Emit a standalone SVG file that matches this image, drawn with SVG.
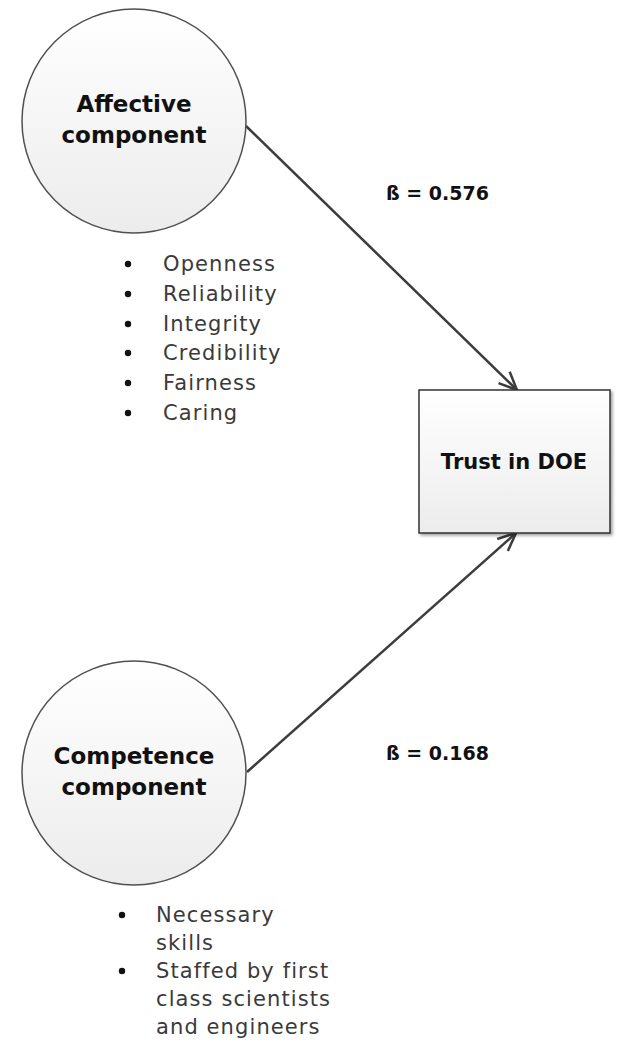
<svg xmlns="http://www.w3.org/2000/svg" width="617" height="1051" viewBox="0 0 617 1051">
<style>
.node{stroke:#505050;stroke-width:1.5}
.title{font-family:"DejaVu Sans",sans-serif;font-weight:bold;fill:#111;text-anchor:middle}
.item{font-family:"DejaVu Sans",sans-serif;font-size:21px;fill:#3a3a3a;letter-spacing:1.1px}
.beta{font-family:"DejaVu Sans",sans-serif;font-weight:bold;font-size:19px;fill:#111}
.conn{stroke:#3c3c3c;stroke-width:2.5;fill:none}
</style>
<defs>
<linearGradient id="g" x1="0" y1="0" x2="0" y2="1">
<stop offset="0" stop-color="#ffffff"/>
<stop offset="1" stop-color="#ececec"/>
</linearGradient>
<filter id="sh" x="-10%" y="-10%" width="130%" height="130%">
<feGaussianBlur in="SourceAlpha" stdDeviation="1.5"/>
<feOffset dx="2" dy="2" result="b"/>
<feComponentTransfer><feFuncA type="linear" slope="0.35"/></feComponentTransfer>
<feMerge><feMergeNode/><feMergeNode in="SourceGraphic"/></feMerge>
</filter>
<marker id="arr" markerWidth="12" markerHeight="12" refX="10" refY="6" orient="auto" markerUnits="userSpaceOnUse" viewBox="0 0 12 12" overflow="visible">
<path d="M-8,-2 L10,6 L-8,14" fill="none" stroke="#3c3c3c" stroke-width="2.5"/>
</marker>
</defs>
<g id="connectors">
<line class="conn" x1="246" y1="126" x2="517" y2="390" marker-end="url(#arr)"/>
<line class="conn" x1="247" y1="772" x2="516" y2="533" marker-end="url(#arr)"/>
</g>
<g id="affective">
<circle class="node" cx="134" cy="121" r="112" fill="url(#g)"/>
<text class="title" x="134" y="112" font-size="23">Affective</text>
<text class="title" x="134" y="143" font-size="23">component</text>
</g>
<g id="affective-list">
<circle cx="128" cy="264" r="3.2" fill="#111"/>
<circle cx="128" cy="294" r="3.2" fill="#111"/>
<circle cx="128" cy="324" r="3.2" fill="#111"/>
<circle cx="128" cy="353" r="3.2" fill="#111"/>
<circle cx="128" cy="383" r="3.2" fill="#111"/>
<circle cx="128" cy="413" r="3.2" fill="#111"/>
<text class="item" x="163" y="271">Openness</text>
<text class="item" x="163" y="301">Reliability</text>
<text class="item" x="163" y="331">Integrity</text>
<text class="item" x="163" y="360">Credibility</text>
<text class="item" x="163" y="390">Fairness</text>
<text class="item" x="163" y="420">Caring</text>
</g>
<g id="competence">
<circle class="node" cx="134" cy="773" r="112" fill="url(#g)"/>
<text class="title" x="134" y="764" font-size="23">Competence</text>
<text class="title" x="134" y="795" font-size="23">component</text>
</g>
<g id="competence-list">
<circle cx="122" cy="915" r="3.2" fill="#111"/>
<circle cx="122" cy="971" r="3.2" fill="#111"/>
<text class="item" x="156" y="922">Necessary</text>
<text class="item" x="156" y="950">skills</text>
<text class="item" x="156" y="978">Staffed by first</text>
<text class="item" x="156" y="1006">class scientists</text>
<text class="item" x="156" y="1034">and engineers</text>
</g>
<g id="trust">
<rect x="419" y="390" width="191" height="143" fill="url(#g)" stroke="#333" stroke-width="1.5" filter="url(#sh)"/>
<text class="title" x="514" y="469" font-size="21">Trust in DOE</text>
</g>
<g id="labels">
<text class="beta" x="386" y="200">ß = 0.576</text>
<text class="beta" x="386" y="760">ß = 0.168</text>
</g>
</svg>
